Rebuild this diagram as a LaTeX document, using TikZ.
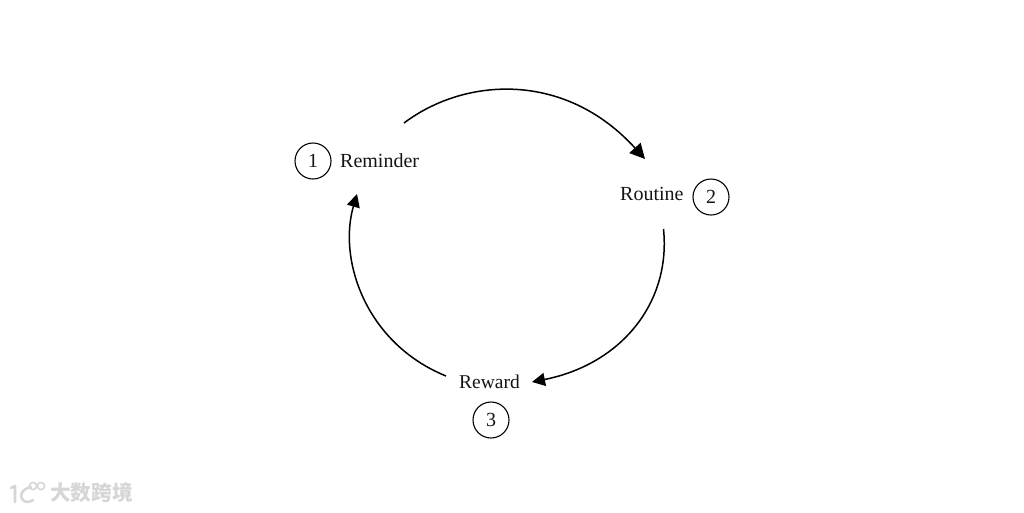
\documentclass[tikz,border=0pt]{standalone}
\usepackage{fontspec}
\setmainfont{Liberation Serif}
\newfontfamily\cjk{Noto Sans CJK SC}
\usetikzlibrary{arrows.meta}
\definecolor{inkc}{HTML}{141414}
\definecolor{wmark}{HTML}{D6D6D6}
\tikzset{
  lab/.style={inner sep=0pt,text=inkc,font=\fontsize{20}{22}\selectfont},
  numc/.style={circle,draw=black,line width=1.1pt,minimum size=36pt,inner sep=0pt,text=inkc,font=\fontsize{20}{22}\selectfont},
  flow/.style={line width=1.5pt,draw=black},
  bigtip/.style={-{Triangle[length=15pt,width=15pt]}},
  smalltip/.style={-{Triangle[length=13pt,width=13pt]}},
  logo/.style={draw=wmark,line width=2.6pt,line cap=round,line join=round},
}
\begin{document}
\begin{tikzpicture}[x=1pt,y=-1pt]
\useasboundingbox (0,0) rectangle (1024,512);
\node[numc] (n1) at (313,161) {1};
\node[numc] (n2) at (711,197) {2};
\node[numc] (n3) at (491,420) {3};
\node[lab,anchor=base west] (reminder) at (340,167.5) {Reminder};
\node[lab,anchor=base west] (routine) at (620,200) {Routine};
\node[lab,anchor=base west,font=\fontsize{19.5}{22}\selectfont] (reward) at (459,388) {Reward};
\coordinate (a1) at (404,123);
\coordinate (a2) at (645,159);
\coordinate (b1) at (663.5,229);
\coordinate (b2) at (532,382);
\coordinate (c1) at (446,376);
\coordinate (c2) at (357,194);
\draw[flow,bigtip] (a1) .. controls (465,77) and (565,71) .. (a2);
\draw[flow,smalltip] (b1) .. controls (671,302) and (622,364) .. (b2);
\draw[flow,smalltip] (c1) .. controls (365,343) and (338,259) .. (c2);
\node[anchor=west,inner sep=0pt,text=wmark,font=\cjk\bfseries\fontsize{20.7}{22}\selectfont] (wm) at (50,493) {大数跨境};
\draw[logo] (11,488) -- (15,486) -- (15,502);
\draw[logo] (31,487) .. controls (21,489) and (19,497) .. (23,500) .. controls (26,503) and (30,502) .. (33,500);
\draw[logo,line width=1.6pt] (33,486) circle (3.6pt);
\draw[logo,line width=1.6pt] (41,486) circle (3.6pt);
\end{tikzpicture}
\end{document}
